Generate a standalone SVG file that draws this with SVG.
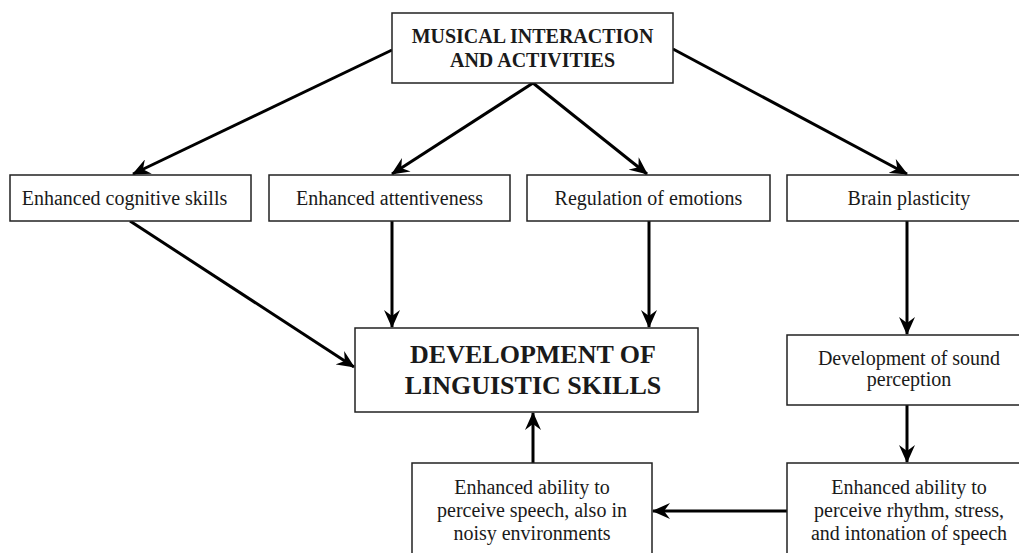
<svg xmlns="http://www.w3.org/2000/svg" width="1019" height="553" viewBox="0 0 1019 553">
<style>
.box{fill:#fff;stroke:#222;stroke-width:1.5}
.t{font-family:"Liberation Serif","Times New Roman",serif;font-size:20px;fill:#1a1a1a;text-anchor:middle}
.b{font-weight:bold}
.c{fill:none;stroke:#000;stroke-width:3;marker-end:url(#ah)}
</style>
<defs>
<marker id="ah" markerUnits="userSpaceOnUse" viewBox="0 0 18 16" refX="17" refY="8" markerWidth="18" markerHeight="16" orient="auto">
<path d="M0,0 L18,8 L0,16 L6,8 Z" fill="#000"/>
</marker>
</defs>
<rect width="1019" height="553" fill="#fff"/>
<g id="connectors">
<line class="c" x1="392" y1="50" x2="133" y2="174"/>
<line class="c" x1="533" y1="83" x2="392" y2="174"/>
<line class="c" x1="533" y1="83" x2="647" y2="174"/>
<line class="c" x1="673" y1="49" x2="907" y2="174"/>
<line class="c" x1="130" y1="221" x2="354" y2="367"/>
<line class="c" x1="392" y1="221" x2="392" y2="327"/>
<line class="c" x1="649" y1="221" x2="649" y2="327"/>
<line class="c" x1="907" y1="221" x2="907" y2="334"/>
<line class="c" x1="907" y1="405" x2="907" y2="462"/>
<line class="c" x1="787" y1="511" x2="653" y2="511"/>
<line class="c" x1="533" y1="463" x2="533" y2="413"/>
</g>
<g id="n-musical">
<rect class="box" x="392" y="13" width="281" height="70"/>
<text class="t b" x="532.5" y="43">MUSICAL INTERACTION</text>
<text class="t b" x="532.5" y="67">AND ACTIVITIES</text>
</g>
<g id="n-cognitive">
<rect class="box" x="10" y="175" width="241" height="46"/>
<text class="t" x="124.5" y="205">Enhanced cognitive skills</text>
</g>
<g id="n-attentiveness">
<rect class="box" x="269" y="175" width="241" height="46"/>
<text class="t" x="389.5" y="205">Enhanced attentiveness</text>
</g>
<g id="n-emotions">
<rect class="box" x="527" y="175" width="243" height="46"/>
<text class="t" x="648.5" y="205">Regulation of emotions</text>
</g>
<g id="n-plasticity">
<rect class="box" x="787" y="175" width="250" height="46"/>
<text class="t" x="909" y="205">Brain plasticity</text>
</g>
<g id="n-linguistic">
<rect class="box" x="355" y="328" width="343" height="84"/>
<text class="t b" x="533" y="363" style="font-size:26px">DEVELOPMENT OF</text>
<text class="t b" x="533" y="394" style="font-size:26px">LINGUISTIC SKILLS</text>
</g>
<g id="n-sound">
<rect class="box" x="787" y="335" width="250" height="70"/>
<text class="t" x="909" y="365">Development of sound</text>
<text class="t" x="909" y="386">perception</text>
</g>
<g id="n-rhythm">
<rect class="box" x="787" y="463" width="250" height="100"/>
<text class="t" x="909" y="494">Enhanced ability to</text>
<text class="t" x="909" y="517">perceive rhythm, stress,</text>
<text class="t" x="909" y="540">and intonation of speech</text>
</g>
<g id="n-speech">
<rect class="box" x="412" y="463" width="240" height="100"/>
<text class="t" x="532" y="494">Enhanced ability to</text>
<text class="t" x="532" y="517">perceive speech, also in</text>
<text class="t" x="532" y="540">noisy environments</text>
</g>
</svg>
